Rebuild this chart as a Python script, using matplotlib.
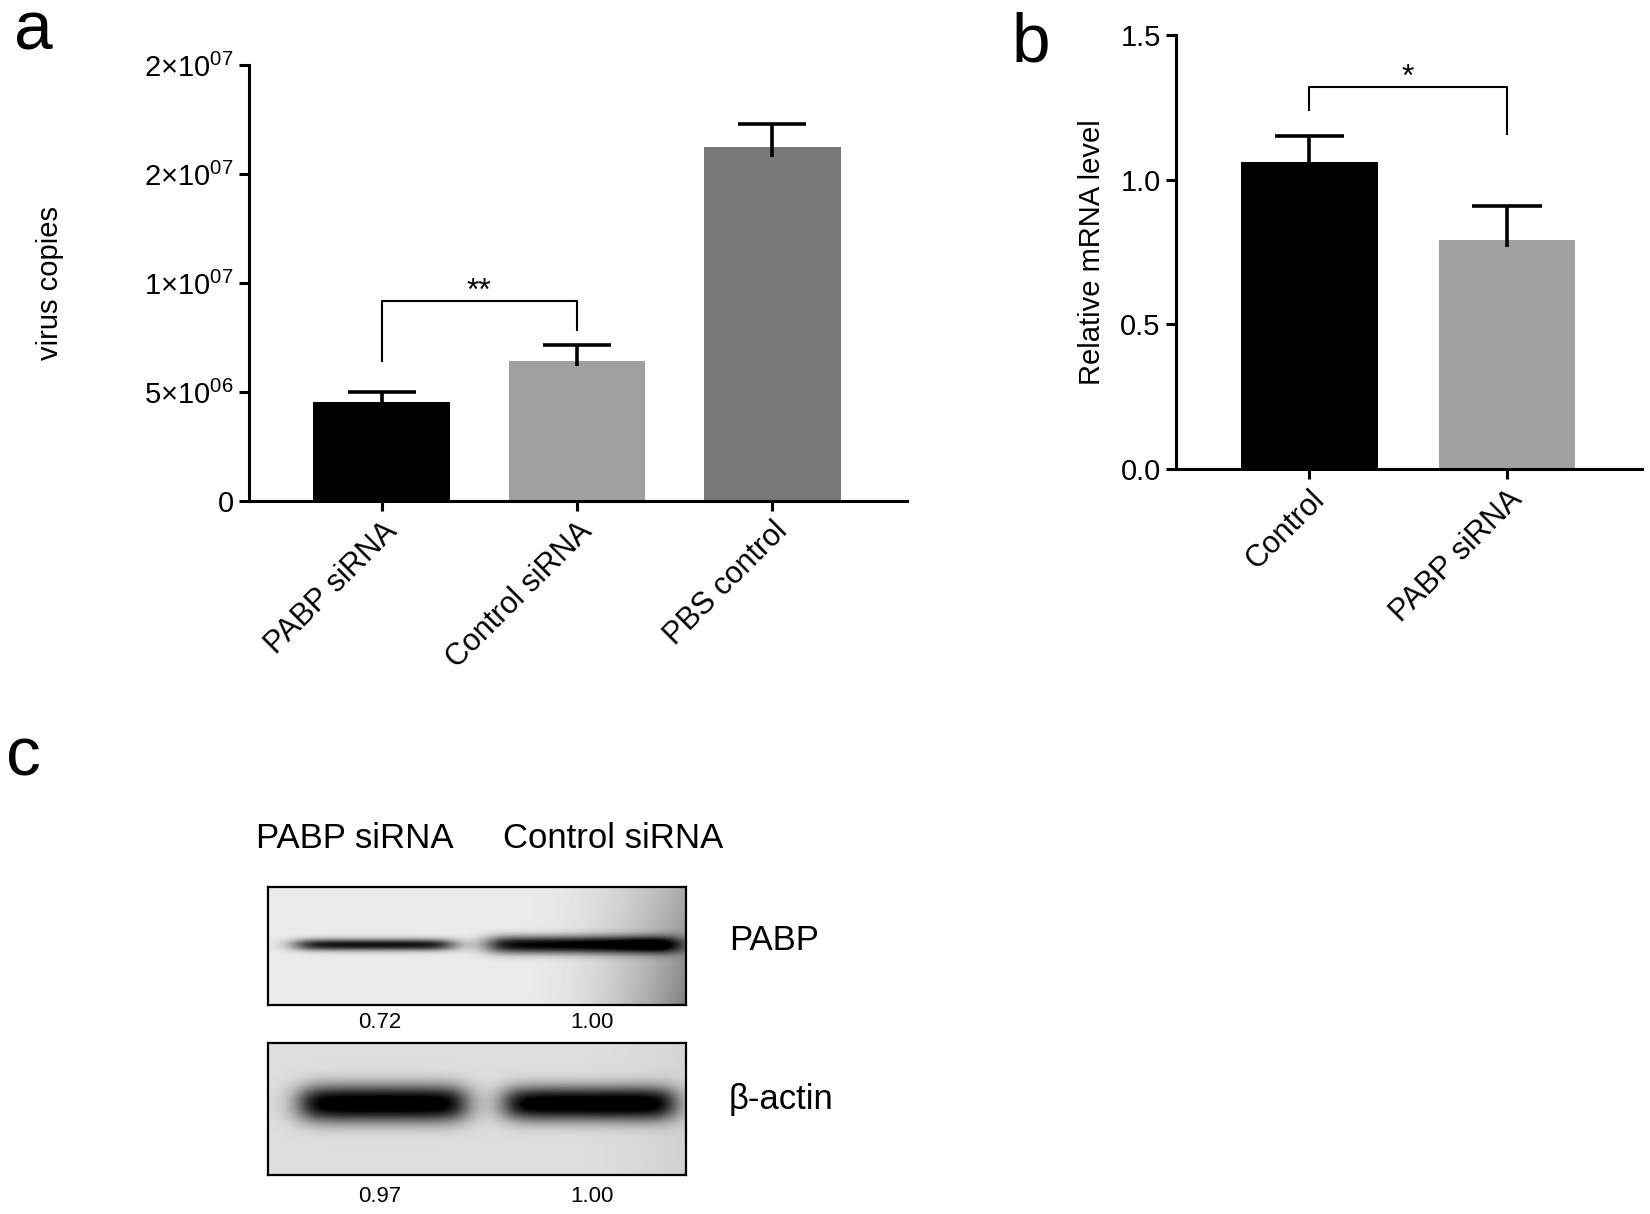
import numpy as np
import matplotlib
matplotlib.use('Agg')
import matplotlib.pyplot as plt

plt.rcParams['font.family'] = ['Liberation Sans', 'DejaVu Sans']
plt.rcParams['mathtext.fontset'] = 'custom'
plt.rcParams['mathtext.rm'] = 'Liberation Sans'

# panel a - virus copies
groups_a = ['PABP siRNA', 'Control siRNA', 'PBS control']
copies = [4.55e6, 6.4e6, 16.25e6]
copies_err = [0.45e6, 0.75e6, 1.05e6]
colors_a = ['#000000', '#a0a0a0', '#787878']
yticks_a = [0, 5e6, 1e7, 1.5e7, 2e7]
ytick_labels_a = ['0', '5×10$^{06}$', '1×10$^{07}$', '2×10$^{07}$', '2×10$^{07}$']

# panel b - relative mRNA level
groups_b = ['Control', 'PABP siRNA']
mrna = [1.06, 0.79]
mrna_err = [0.09, 0.12]
colors_b = ['#000000', '#a0a0a0']
yticks_b = [0.0, 0.5, 1.0, 1.5]

# panel c - western blot
lanes = ['PABP siRNA', 'Control siRNA']
blot_proteins = ['PABP', 'β-actin']
pabp_ratio = ['0.72', '1.00']
actin_ratio = ['0.97', '1.00']

W, H = 1650, 1214
fig = plt.figure(figsize=(W / 100, H / 100), dpi=100)


def add_box(x0, y0, x1, y1):
    # pixel box, origin top-left
    return fig.add_axes([x0 / W, 1 - y1 / H, (x1 - x0) / W, (y1 - y0) / H])


def style(ax):
    for s in ['top', 'right']:
        ax.spines[s].set_visible(False)
    for s in ['left', 'bottom']:
        ax.spines[s].set_linewidth(2.2)
    ax.tick_params(direction='out', length=7, width=2.2, pad=4)
    ax.tick_params(axis='y', labelsize=21)
    ax.tick_params(axis='x', labelsize=22)


def up_errors(ax, x, vals, errs, half=0.175):
    for xi, v, e in zip(x, vals, errs):
        ax.plot([xi, xi], [v * 0.97, v + e], color='black', lw=2.6, zorder=3, solid_capstyle='butt')
        ax.plot([xi - half, xi + half], [v + e, v + e], color='black', lw=2.6, zorder=3, solid_capstyle='butt')


# ---- a ----
ax = add_box(249, 65, 907, 501)
xa = np.arange(len(groups_a))
ax.bar(xa, copies, width=0.7, color=colors_a, zorder=2)
up_errors(ax, xa, copies, copies_err)
ax.set_xlim(-0.68, 2.69)
ax.set_ylim(0, 2e7)
ax.set_yticks(yticks_a)
ax.set_yticklabels(ytick_labels_a)
ax.set_xticks(xa)
ax.set_xticklabels(groups_a, rotation=45, ha='right', va='top', rotation_mode='anchor')
style(ax)
ax.set_ylabel('virus copies', fontsize=21, labelpad=58)
ax.plot([0, 0, 1, 1], [6.44e6, 9.18e6, 9.18e6, 7.84e6], color='black', lw=1.5)
ax.text(0.5, 8.9e6, '**', ha='center', va='bottom', fontsize=23)

# ---- b ----
bx = add_box(1176, 35, 1642, 469)
xb = np.arange(len(groups_b))
bx.bar(xb, mrna, width=0.69, color=colors_b, zorder=2)
up_errors(bx, xb, mrna, mrna_err)
bx.set_xlim(-0.675, 1.683)
bx.set_ylim(0, 1.5)
bx.set_yticks(yticks_b)
bx.set_yticklabels([f'{t:.1f}' for t in yticks_b])
bx.set_xticks(xb)
bx.set_xticklabels(groups_b, rotation=45, ha='right', va='top', rotation_mode='anchor')
style(bx)
bx.set_ylabel('Relative mRNA level', fontsize=21, labelpad=10)
bx.plot([0, 0, 1, 1], [1.242, 1.322, 1.322, 1.159], color='black', lw=1.5)
bx.text(0.5, 1.30, '*', ha='center', va='bottom', fontsize=23)

# ---- c (blot drawing) ----
def blot(shape, bands, base, edge_dark, edge_start):
    h, w = shape
    yy, xx = np.mgrid[0:h, 0:w]
    u = xx / (w - 1)
    v = yy / (h - 1)
    ramp = np.clip((u - edge_start) / (1 - edge_start), 0, 1) ** 2
    img = base - edge_dark * ramp * (0.6 + 0.4 * v)
    for x0, x1, yc, th, depth in bands:
        horiz = 1 / (1 + np.exp(-(u - x0) / 0.02)) / (1 + np.exp((u - x1) / 0.02))
        vert = np.exp(-np.abs((v - yc) / th) ** 2.2)
        img = img - depth * horiz * vert
    return np.clip(img, 0, 1)


top = blot((118, 418), [(0.07, 0.44, 0.49, 0.05, 0.85), (0.53, 0.98, 0.49, 0.075, 0.92)], 0.92, 0.42, 0.6)
bot = blot((132, 418), [(0.08, 0.47, 0.46, 0.14, 0.97), (0.57, 0.97, 0.46, 0.13, 0.97)], 0.87, 0.06, 0.7)

for img, (y0, y1) in zip([top, bot], [(887, 1005), (1043, 1175)]):
    cx = add_box(268, y0, 686, y1)
    cx.imshow(img, cmap='gray', vmin=0, vmax=1, aspect='auto', interpolation='bilinear')
    cx.set_xticks([])
    cx.set_yticks([])
    for s in cx.spines.values():
        s.set_linewidth(1.6)

lane_x = [380, 592]
for lx, lab in zip([355, 613], lanes):
    fig.text(lx / W, 1 - 839 / H, lab, fontsize=25, ha='center', va='center')
for lx, r in zip(lane_x, pabp_ratio):
    fig.text(lx / W, 1 - 1022 / H, r, fontsize=16, ha='center', va='center')
for lx, r in zip(lane_x, actin_ratio):
    fig.text(lx / W, 1 - 1197 / H, r, fontsize=16, ha='center', va='center')
for yy, p in zip([940, 1100], blot_proteins):
    fig.text(729 / W, 1 - yy / H, p, fontsize=25, ha='left', va='center')

# panel letters
fig.text(14 / W, 1 - 50 / H, 'a', fontsize=50, ha='left', va='baseline')
fig.text(1012 / W, 1 - 61 / H, 'b', fontsize=50, ha='left', va='baseline')
fig.text(6 / W, 1 - 776 / H, 'c', fontsize=50, ha='left', va='baseline')

fig.savefig('out.png', dpi=100)
